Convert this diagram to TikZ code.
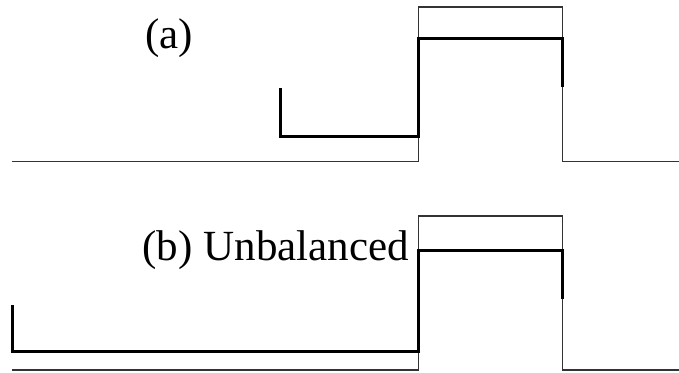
\documentclass[tikz,border=0pt]{standalone}
\usepackage{fontspec}
\setmainfont{Liberation Serif}
\begin{document}
\begin{tikzpicture}[x=1pt,y=1pt,
  thinline/.style={line width=1.2pt,draw=black!80},
  thickline/.style={line width=3pt,draw=black,line join=miter},
  lbl/.style={inner sep=0pt,font=\fontsize{43}{43}\selectfont}]
\useasboundingbox (0,0) rectangle (679,372);
% panel (a)
\draw[thinline] (12,210.5) -- (418.7,210.5) -- (418.7,365) -- (562.7,365) -- (562.7,210.5) -- (679,210.5);
\draw[thickline] (280,284) -- (280,235.5) -- (418.7,235.5) -- (418.7,333.7) -- (562.7,333.7) -- (562.7,285.3);
\node[lbl,anchor=base west] (la) at (145,323) {(a)};
% panel (b)
\draw[thinline] (12,2) -- (418.7,2) -- (418.7,156) -- (562.7,156) -- (562.7,2) -- (679,2);
\draw[thickline] (12,67) -- (12,21) -- (418.7,21) -- (418.7,121.3) -- (562.7,121.3) -- (562.7,72.7);
\node[lbl,anchor=base east] (lb) at (409,111) {(b) Unbalanced};
\end{tikzpicture}
\end{document}
